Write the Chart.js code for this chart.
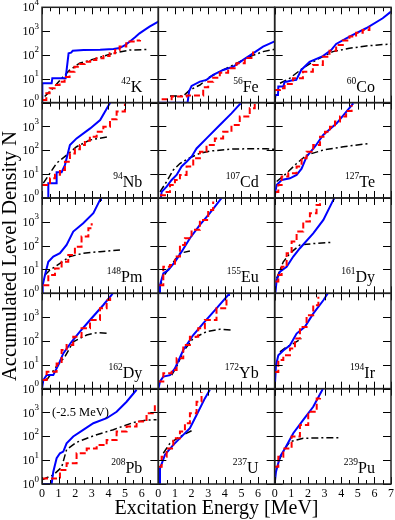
<!DOCTYPE html>
<html><head><meta charset="utf-8">
<script src="https://cdn.jsdelivr.net/npm/chart.js@4/dist/chart.umd.min.js"></script>
<style>
html,body{margin:0;padding:0;background:#fff;}
#wrap{position:relative;width:395px;height:520px;background:#fff;}
#wrap canvas{position:absolute;left:0;top:0;}
</style></head><body><div id="wrap"></div>
<script>
// ---- tick labels / categories ----
const xTickValues = [0,1,2,3,4,5,6,7];
const yTickValues = [1,10,100,1000,10000];
const yTickExponents = ["0","1","2","3","4"];
const massNumbers = ["42","56","60","94","107","127","148","155","161","162","172","194","208","237","239"];
const elements    = ["K","Fe","Co","Nb","Cd","Te","Pm","Eu","Dy","Dy","Yb","Ir","Pb","U","Pu"];
const xTitle = "Excitation Energy [MeV]";
const yTitle = "Accumulated Level Density N";
const pbNote = "(-2.5 MeV)";

// ---- series: [energy MeV, N] ----
const K42_blue  = [[0,1],[0.02,6.5],[0.58,6.5],[0.62,10.5],[1.42,10.5],[1.5,30],[1.6,117],[1.75,125],[1.85,150],[2.5,160],[3.5,165],[4.3,180],[4.67,195],[5.0,260],[5.27,360],[5.6,550],[5.87,810],[6.2,1150],[6.47,1550],[7.0,2500]];
const K42_red   = [[0.06,1.3],[0.26,2.5],[0.46,4],[0.76,5.5],[1.06,7.6],[1.36,12],[1.66,20],[1.96,32],[2.26,42],[2.57,52],[2.9,62],[3.27,72],[3.7,90],[4.07,117],[4.4,160],[4.67,224],[5.07,309],[5.27,363],[5.6,400],[5.9,420]];
const K42_black = [[0.16,1.8],[0.66,4],[1.26,12],[1.66,23],[2.26,45],[3.27,72],[4.27,117],[5.27,160],[6.3,170]];

const Fe56_blue  = [[0,1],[1.76,1],[1.85,3],[2.0,5],[2.5,7.6],[2.9,9],[3.3,14.5],[3.9,23.5],[4.5,32],[5.1,62],[5.7,117],[6.3,224],[7.0,370]];
const Fe56_red   = [[0.2,1.4],[0.8,1.8],[1.7,2.0],[2.7,4.4],[3.0,7.5],[3.3,11],[3.7,18],[4.2,28],[4.7,45],[5.2,75],[5.7,140]];
const Fe56_black = [[0.7,1.9],[1.5,1.9],[1.9,3.4],[2.5,5.5],[3.1,12],[3.7,20],[4.5,38],[5.5,85],[6.3,138],[7.0,173]];

const Co60_blue  = [[0,1],[0.05,2.1],[0.2,2.1],[0.22,4.7],[0.52,4.7],[0.6,7.6],[0.72,7.6],[1.0,8.5],[1.3,9],[1.6,23.5],[2.1,52],[2.9,90],[3.4,160],[3.7,290],[4.5,590],[5.5,1320],[6.5,3460],[7.0,6600]];
const Co60_red   = [[0,3.4],[0.32,4],[0.6,6],[1.1,10.5],[1.7,20],[2.3,38],[2.9,85],[3.3,150],[3.7,263],[4.1,400],[4.5,590],[4.9,850],[5.3,1120],[5.7,1550]];
const Co60_black = [[0.32,6.5],[0.9,10.5],[1.7,28],[2.5,62],[3.5,138],[4.5,190],[5.5,240],[7.0,290]];

const Nb94_blue  = [[0,1],[0.38,1],[0.38,4.1],[0.88,4.1],[0.88,12],[1.18,12],[1.38,24],[1.68,166],[2.08,316],[2.9,830],[3.5,1860],[4.1,10000]];
const Nb94_red   = [[0,3.5],[0.48,6.7],[0.78,9.4],[1.08,15],[1.38,33],[1.68,74],[1.98,110],[2.28,166],[2.58,250],[2.88,372],[3.29,600],[3.69,980],[4.09,2000],[4.49,4200],[4.99,9300]];
const Nb94_black = [[0.08,4.2],[0.48,11],[0.88,29],[1.48,63],[2.08,141],[2.88,270],[3.99,372]];

const Cd107_blue  = [[0.15,1],[0.2,1.8],[0.5,3],[0.8,5.7],[1.1,9.3],[1.4,21],[1.7,33],[2.0,54],[2.3,120],[2.9,316],[3.7,1150],[4.4,3550],[4.95,9300]];
const Cd107_red   = [[0.1,1.3],[0.4,1.8],[0.7,3.5],[1.0,5.7],[1.3,9.3],[1.7,21],[2.1,46],[2.5,87],[2.9,166],[3.4,316],[3.9,600],[4.4,1150],[4.9,2600],[5.5,5800],[5.8,9300]];
const Cd107_black = [[0.1,1.8],[0.5,4.9],[0.9,15],[1.3,28],[1.9,49],[2.5,75],[3.1,93],[4.5,114],[6.5,117],[7.0,110]];

const Te127_blue  = [[0,1],[0.05,2],[0.12,3.5],[0.42,5.7],[0.92,6.7],[1.32,9.3],[1.62,17],[1.92,54],[2.42,141],[2.92,440],[3.73,1350],[4.73,9300]];
const Te127_red   = [[0,1.8],[0.22,3.5],[0.42,8],[0.82,11],[1.32,21],[1.62,46],[1.92,87],[2.32,166],[2.73,372],[3.03,600],[3.33,980],[3.63,1600],[3.93,2600],[4.3,4500],[4.63,8000]];
const Te127_black = [[0.12,4.9],[0.72,11],[1.32,28],[1.92,63],[2.93,103],[4.13,141],[5.73,195]];

const Pm148_blue  = [[0,1],[0.04,2.2],[0.18,5.9],[0.38,21],[0.68,35],[1.08,48],[1.48,107],[1.88,390],[2.48,870],[3.09,2300],[3.49,8300],[3.55,10000]];
const Pm148_red   = [[0.08,2.2],[0.38,5.9],[0.78,11],[1.18,21],[1.58,41],[1.98,91],[2.38,240],[2.79,537],[2.99,870]];
const Pm148_black = [[0.18,5.9],[0.48,9.5],[1.08,18],[1.68,35],[2.48,48],[3.49,56],[4.69,66]];

const Eu155_blue  = [[0.06,1],[0.1,2.2],[0.3,6.9],[0.6,9.5],[1.0,21],[1.4,56],[1.9,205],[2.5,740],[3.1,2300],[3.8,9800]];
const Eu155_red   = [[0.06,2.2],[0.3,13],[0.7,15.5],[1.0,35],[1.3,107],[1.6,205],[2.0,460],[2.5,1200],[3.0,3160],[3.3,7100]];
const Eu155_black = [[0.06,1.6],[0.3,5],[0.7,13],[1.3,48],[1.9,60]];

const Dy161_blue  = [[0.04,1],[0.12,3.6],[0.32,8.1],[0.72,13],[1.12,35],[1.52,78],[2.32,330],[2.93,1200],[3.53,8300],[3.6,10000]];
const Dy161_red   = [[0.04,3.1],[0.22,5.9],[0.42,13],[0.72,48],[1.02,148],[1.32,390],[1.72,1020],[2.12,2300],[2.52,5100],[2.73,8300]];
const Dy161_black = [[0.12,4.3],[0.52,21],[0.92,48],[1.52,107],[2.52,126],[3.53,139]];

const Dy162_blue  = [[0,1],[0.08,2.3],[0.28,3.7],[0.68,3.7],[0.98,9.8],[1.28,30],[1.78,93],[2.28,245],[2.89,760],[3.69,3240],[4.19,8500],[4.25,10000]];
const Dy162_red   = [[0.04,2.3],[0.28,5.1],[0.68,5.1],[0.88,11.5],[1.18,42],[1.48,68],[1.88,151],[2.38,340],[2.89,760],[3.49,2340],[3.89,5200],[4.1,8000]];
const Dy162_black = [[0.28,2.3],[0.78,7.1],[1.38,22],[1.88,93],[2.69,178],[3.29,224],[3.89,210]];

const Yb172_blue  = [[0,1],[0.1,2],[0.3,3.2],[0.7,3.7],[1.0,7.1],[1.5,42],[2.1,178],[2.7,550],[3.5,2340],[4.2,8500],[4.25,10000]];
const Yb172_red   = [[0,2],[0.3,4.4],[0.8,6],[1.1,19],[1.5,68],[1.9,151],[2.4,340],[2.8,760],[3.5,2340],[4.1,7300]];
const Yb172_black = [[0.8,3.7],[1.1,8.3],[1.5,36],[2.1,129],[2.9,245],[3.7,310],[4.4,290]];

const Ir194_blue  = [[0,1],[0.08,9.6],[0.22,25],[0.52,40],[0.92,66],[1.32,205],[1.82,390],[2.32,1400],[2.93,5100],[3.2,10000]];
const Ir194_red   = [[0,5],[0.22,16],[0.52,25],[0.92,48],[1.22,126],[1.52,390],[1.92,1200],[2.32,3160],[2.63,7100]];
const Ir194_black = [[0.32,35],[0.72,56],[1.12,78],[1.62,126]];

const Pb208_blue  = [[0,1],[0.58,1],[0.68,3.3],[0.88,12],[1.08,19.5],[1.28,23],[1.48,51],[1.88,98],[2.48,186],[3.09,355],[3.89,575],[4.49,1070],[5.09,2820],[5.69,9000]];
const Pb208_red   = [[0,1.7],[1.08,3.9],[1.48,7.4],[2.08,19.5],[2.69,31],[3.29,43],[3.89,71],[4.49,158],[5.09,257],[5.69,420],[6.29,930],[6.79,2050]];
const Pb208_black = [[0,1.5],[0.68,2.4],[1.18,5],[1.48,28],[2.08,56],[3.09,105],[4.29,190],[5.49,380],[6.29,480],[6.89,500]];

const U237_blue  = [[0.06,1],[0.1,4.5],[0.4,17],[0.9,44],[1.5,115],[1.9,220],[2.3,790],[2.8,3900],[3.1,9000]];
const U237_red   = [[0,5.3],[0.2,14],[0.5,31],[0.9,83],[1.3,158],[1.6,355],[1.9,930],[2.3,2820],[2.6,7000]];
const U237_black = [[0.3,19.5],[0.7,51],[1.3,98],[2.1,186]];

const Pu239_blue  = [[0,1],[0.08,3.3],[0.32,14],[0.62,31],[1.12,135],[1.72,490],[2.32,1740],[2.83,8000],[2.9,10000]];
const Pu239_red   = [[0,5.3],[0.22,14],[0.52,31],[1.02,98],[1.52,300],[2.02,1070],[2.53,3900],[2.73,5500]];
const Pu239_black = [[0.22,8.7],[0.62,31],[0.92,60],[1.72,83],[2.93,87],[3.93,87]];

const blueSeries  = [K42_blue,Fe56_blue,Co60_blue,Nb94_blue,Cd107_blue,Te127_blue,Pm148_blue,Eu155_blue,Dy161_blue,Dy162_blue,Yb172_blue,Ir194_blue,Pb208_blue,U237_blue,Pu239_blue];
const redSeries   = [K42_red,Fe56_red,Co60_red,Nb94_red,Cd107_red,Te127_red,Pm148_red,Eu155_red,Dy161_red,Dy162_red,Yb172_red,Ir194_red,Pb208_red,U237_red,Pu239_red];
const blackSeries = [K42_black,Fe56_black,Co60_black,Nb94_black,Cd107_black,Te127_black,Pm148_black,Eu155_black,Dy161_black,Dy162_black,Yb172_black,Ir194_black,Pb208_black,U237_black,Pu239_black];

// ---- layout ----
const W = 395, H = 520;
const X0 = 42, X1 = 391, Y0 = 7.3, Y1 = 484;
const PW = (X1 - X0) / 3, PH = (Y1 - Y0) / 5;
const SERIF = '"Liberation Serif","Times New Roman",serif';
const toPts = a => a.map(p => ({x: p[0], y: p[1]}));

function makePlugin(idx) {
  const r = Math.floor(idx / 3), c = idx % 3;
  return {
    id: 'panel' + idx,
    afterDatasetsDraw(chart) {
      const ctx = chart.ctx, a = chart.chartArea, xs = chart.scales.x, ys = chart.scales.y;
      ctx.save();
      ctx.strokeStyle = '#000';
      ctx.lineWidth = 1;
      ctx.beginPath();
      for (let i = 0; i <= 14; i++) {
        const v = i / 2, px = Math.round(xs.getPixelForValue(v)) + 0.5;
        const len = (i % 2 === 0) ? 7 : 4;
        ctx.moveTo(px, a.bottom); ctx.lineTo(px, a.bottom - len);
        ctx.moveTo(px, a.top); ctx.lineTo(px, a.top + len);
      }
      yTickValues.forEach(v => {
        const py = Math.round(ys.getPixelForValue(v)) + 0.5;
        ctx.moveTo(a.left, py); ctx.lineTo(a.left + 8, py);
        ctx.moveTo(a.right, py); ctx.lineTo(a.right - 8, py);
      });
      ctx.stroke();
      ctx.lineWidth = 1.5;
      ctx.strokeStyle = '#222';
      ctx.strokeRect(a.left, a.top, a.right - a.left, a.bottom - a.top);

      ctx.fillStyle = '#000';
      if (c === 0) {
        yTickValues.forEach((v, k) => {
          if (k === 4 && r !== 0) return;
          const py = ys.getPixelForValue(v);
          ctx.font = '9px ' + SERIF;
          const sw = ctx.measureText(yTickExponents[k]).width;
          const xr = a.left - 3;
          ctx.textAlign = 'left'; ctx.textBaseline = 'alphabetic';
          ctx.fillText(yTickExponents[k], xr - sw, py - 2.5);
          ctx.font = '12px ' + SERIF;
          ctx.textAlign = 'right'; ctx.textBaseline = 'middle';
          ctx.fillText('10', xr - sw, py + 1);
        });
      }
      if (r === 4) {
        ctx.font = '12px ' + SERIF;
        ctx.textAlign = 'center'; ctx.textBaseline = 'top';
        xTickValues.forEach(v => {
          if (v === 7 && c !== 2) return;
          ctx.fillText(String(v), xs.getPixelForValue(v), a.bottom + 4);
        });
      }
      ctx.textBaseline = 'alphabetic';
      ctx.textAlign = 'right';
      ctx.font = '16px ' + SERIF;
      const xr = a.right - 16, yb = a.bottom - 11;
      const ew = ctx.measureText(elements[idx]).width;
      ctx.fillText(elements[idx], xr, yb);
      ctx.font = '9.5px ' + SERIF;
      ctx.fillText(massNumbers[idx], xr - ew, yb - 8);
      if (idx === 12) {
        ctx.textAlign = 'left';
        ctx.font = '12.5px ' + SERIF;
        ctx.fillText(pbNote, xs.getPixelForValue(0.6), ys.getPixelForValue(1000) + 4);
      }
      if (idx === 0) {
        ctx.font = '20px ' + SERIF;
        ctx.textAlign = 'center';
        ctx.textBaseline = 'alphabetic';
        ctx.fillText(xTitle, (X0 + X1) / 2, 514);
        ctx.save();
        ctx.translate(16, 256);
        ctx.rotate(-Math.PI / 2);
        ctx.font = '20.5px ' + SERIF;
        ctx.fillText(yTitle, 0, 0);
        ctx.restore();
      }
      ctx.restore();
    }
  };
}

const wrap = document.getElementById('wrap');
for (let i = 0; i < 15; i++) {
  const r = Math.floor(i / 3), c = i % 3;
  const cv = document.createElement('canvas');
  cv.width = W; cv.height = H;
  cv.style.width = W + 'px'; cv.style.height = H + 'px';
  wrap.appendChild(cv);
  const left = X0 + c * PW, right = X0 + (c + 1) * PW;
  const top = Y0 + r * PH, bottom = Y0 + (r + 1) * PH;
  new Chart(cv, {
    type: 'line',
    data: {
      datasets: [
        {data: toPts(redSeries[i]), borderColor: '#ff0000', borderWidth: 2, borderDash: [6, 3], stepped: 'before', pointRadius: 0, fill: false},
        {data: toPts(blueSeries[i]), borderColor: '#0000ff', borderWidth: 2, pointRadius: 0, tension: 0, fill: false},
        {data: toPts(blackSeries[i]), borderColor: '#000000', borderWidth: 1.5, borderDash: [7, 3, 2, 3], pointRadius: 0, tension: 0, fill: false}
      ]
    },
    options: {
      responsive: false, animation: false, events: [],
      devicePixelRatio: 1,
      layout: {padding: {left: left, right: W - right, top: top, bottom: H - bottom}},
      plugins: {legend: {display: false}, tooltip: {enabled: false}, title: {display: false}},
      scales: {
        x: {type: 'linear', min: 0, max: 7, display: false},
        y: {type: 'logarithmic', min: 1, max: 10000, display: false}
      }
    },
    plugins: [makePlugin(i)]
  });
}
</script></body></html>
